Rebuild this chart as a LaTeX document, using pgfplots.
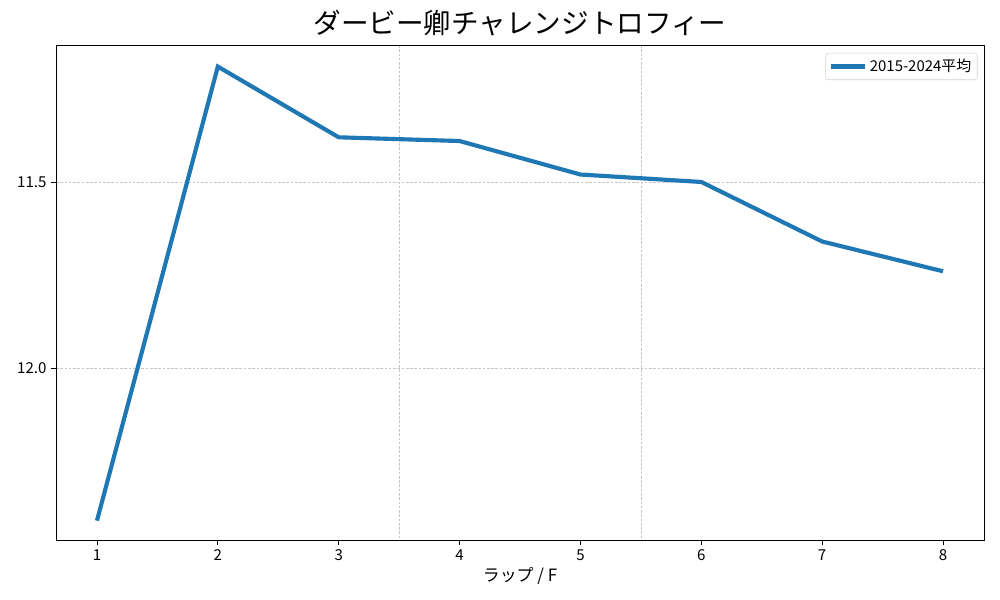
\documentclass[border=0pt]{standalone}
\usepackage{fontspec}
\setmainfont{Noto Sans CJK JP}
\usepackage{pgfplots}
\pgfplotsset{compat=1.18}
\definecolor{mplblue}{HTML}{1F77B4}
\begin{document}
\begin{tikzpicture}
\useasboundingbox (0,0) rectangle (750pt,450pt);
\begin{axis}[
  at={(42pt,45pt)}, anchor=south west,
  scale only axis, width=696pt, height=371.25pt,
  xmin=0.661, xmax=8.339,
  ymin=11.132, ymax=12.462,
  y dir=reverse,
  xtick={1,2,3,4,5,6,7,8},
  ytick={11.5,12.0},
  yticklabels={11.5,12.0},
  minor xtick={3.5,5.5},
  minor tick length=0pt,
  minor x grid style={gray!45, dash pattern=on 2pt off 1.2pt, line width=0.45pt},
  xminorgrids=true,
  ymajorgrids=true,
  major grid style={gray!45, dash pattern=on 2pt off 1.2pt, line width=0.45pt},
  tick align=outside,
  major tick length=3.6pt,
  tick style={black, line width=0.6pt},
  xtick pos=bottom, ytick pos=left,
  axis line style={line width=0.6pt},
  /pgf/number format/assume math mode=true,
  tick label style={font=\fontsize{11.3pt}{13pt}\selectfont},
  xlabel={ラップ / F},
  xlabel style={font=\fontsize{12.7pt}{14pt}\selectfont, yshift=2pt},
  title={ダービー卿チャレンジトロフィー},
  title style={font=\fontsize{20.7pt}{24pt}\selectfont, yshift=-3pt},
  legend style={at={(0.993,0.984)}, anchor=north east, font=\fontsize{11.2pt}{13pt}\selectfont, draw=gray!35, rounded corners=2pt, inner sep=2.5pt},
  legend cell align=left,
  legend image code/.code={\draw[#1, line width=3.1pt] (0cm,0cm) -- (0.9cm,0cm);},
]
\addplot[mplblue, line width=3.1pt] coordinates {
(1,12.41) (2,11.19) (3,11.38) (4,11.39) (5,11.48) (6,11.50) (7,11.66) (8,11.74)
};
\addlegendentry{2015-2024平均}
\end{axis}
\end{tikzpicture}
\end{document}
